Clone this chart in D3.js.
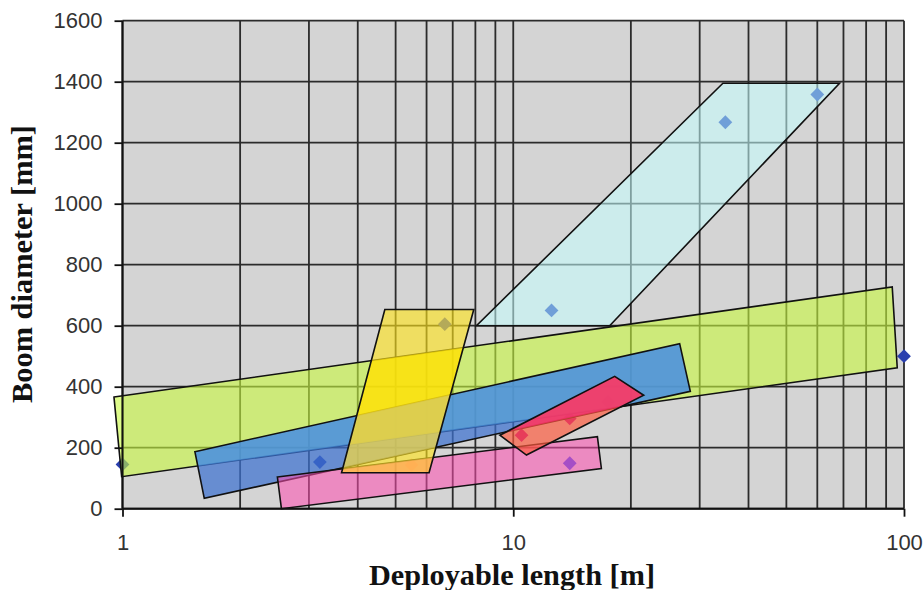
<!DOCTYPE html>
<html>
<head>
<meta charset="utf-8">
<script src="https://cdn.jsdelivr.net/npm/d3@7/dist/d3.min.js"></script>
<style>
  html, body { margin: 0; padding: 0; background: #fff; }
  svg { display: block; }
</style>
</head>
<body>
<svg id="chart" width="923" height="590"></svg>
<script>
// Axis ticks
const xTickValues = [1, 10, 100];
const yTickValues = [0, 200, 400, 600, 800, 1000, 1200, 1400, 1600];
const xGridValues = [1, 2, 3, 4, 5, 6, 7, 8, 9, 10, 20, 30, 40, 50, 60, 70, 80, 90, 100];

// Design regions: [length m, diameter mm] corners
const regionGreen  = [[0.951, 366], [93.3, 727], [96.1, 462], [0.995, 105]];
const regionBlue   = [[1.532, 187], [26.66, 541], [28.39, 385], [1.619, 34]];
const regionPink   = [[2.491, 104], [16.42, 236], [16.81, 132], [2.551, 0]];
const regionRed    = [[9.24, 241], [18.18, 434], [21.57, 372], [10.81, 176]];
const regionYellow = [[4.692, 653], [7.925, 653], [6.089, 118], [3.636, 118]];
const regionCyan   = [[34.4, 1395], [68.4, 1395], [17.65, 600], [8.05, 600]];

// Boom data points: [length m, diameter mm]
const pointsNavy    = [[1, 145], [3.2, 153], [100, 500]];
const pointsSky     = [[12.53, 650], [34.9, 1267], [60, 1358]];
const pointsMagenta = [[10.5, 241], [13.95, 296], [17.48, 350]];
const pointsPurple  = [[13.95, 149]];
const pointsGray    = [[6.68, 605]];
const pointsSalmon  = [[5.49, 143]];

(function () {
const svg = d3.select("#chart");
const defs = svg.append("defs");
const pl = 122.5, pr = 904, pt = 20.7, pb = 508.7;

const x = d3.scaleLog().domain([1, 100]).range([pl, pr]);
const y = d3.scaleLinear().domain([0, 1600]).range([pb, pt]);
const outline = d3.line().x(d => x(d[0])).y(d => y(d[1])).curve(d3.curveLinearClosed);

// plot background
svg.append("rect")
  .attr("x", pl).attr("y", pt)
  .attr("width", pr - pl).attr("height", pb - pt)
  .attr("fill", "#d4d4d4");

// grid
const grid = svg.append("g").attr("stroke", "#2b2b2b").attr("stroke-width", 1.8);
grid.selectAll("line.gx").data(xGridValues).join("line")
  .attr("x1", d => x(d)).attr("x2", d => x(d))
  .attr("y1", pt).attr("y2", pb);
grid.selectAll("line.gy").data(yTickValues).join("line")
  .attr("x1", pl).attr("x2", pr)
  .attr("y1", d => y(d)).attr("y2", d => y(d));

// markers (sit beneath the translucent regions)
const diamond = d3.symbol().type(d3.symbolSquare).size(95);
function markers(data, color) {
  svg.append("g").selectAll("path").data(data).join("path")
    .attr("d", diamond)
    .attr("transform", d => `translate(${x(d[0])},${y(d[1])}) rotate(45)`)
    .attr("fill", color);
}
markers(pointsNavy, "#2a3fae");
markers(pointsSky, "#0a2aa8");
markers(pointsMagenta, "#b4009a");
markers(pointsPurple, "#3a50e0");
markers(pointsGray, "#3a4cc0");
markers(pointsSalmon, "#ff9a9a");

// clip paths for the overlaps between regions
const clips = {};
[["green", regionGreen], ["blue", regionBlue], ["pink", regionPink]].forEach(([name, data]) => {
  defs.append("clipPath").attr("id", "clip-" + name)
    .append("path").attr("d", outline(data));
  clips[name] = "url(#clip-" + name + ")";
});

// translucent regions, each with tinted overlaps and a dark outline
function region(data, color, alpha, overlaps = []) {
  const g = svg.append("g");
  g.append("path").attr("d", outline(data))
    .attr("fill", color).attr("fill-opacity", alpha);
  overlaps.forEach(o => {
    g.append("path").attr("d", outline(data))
      .attr("clip-path", clips[o.under])
      .attr("fill", o.color).attr("fill-opacity", o.alpha);
  });
  g.append("path").attr("d", outline(data))
    .attr("fill", "none")
    .attr("stroke", "#111")
    .attr("stroke-width", 1.6)
    .attr("stroke-linejoin", "miter");
}
region(regionGreen, "#c8f83e", 0.6);
region(regionBlue, "#3d71d0", 0.72, [{under: "green", color: "#50a4f0", alpha: 0.5}]);
region(regionPink, "#ff4cb0", 0.55);
region(regionRed, "#ff5a3c", 0.68, [{under: "blue", color: "#ff286e", alpha: 0.65}]);
region(regionYellow, "#ffe41a", 0.62, [
  {under: "green", color: "#ffe100", alpha: 0.6},
  {under: "blue", color: "#d6c670", alpha: 0.55},
  {under: "pink", color: "#ffac5a", alpha: 0.55}
]);
region(regionCyan, "#c4ffff", 0.55);

// axes
const axisFont = "'Liberation Sans', Arial, sans-serif";
const gx = svg.append("g").attr("transform", `translate(0,${pb})`)
  .call(d3.axisBottom(x).tickValues(xTickValues).tickFormat(d3.format("d")).tickSize(8).tickPadding(18));
const gy = svg.append("g").attr("transform", `translate(${pl},0)`)
  .call(d3.axisLeft(y).tickValues(yTickValues).tickFormat(d3.format("d")).tickSize(8).tickPadding(12));
[gx, gy].forEach(g => {
  g.select(".domain").attr("stroke", "#111").attr("stroke-width", 2);
  g.selectAll(".tick line").attr("stroke", "#111").attr("stroke-width", 1.8);
  g.selectAll(".tick text").attr("font-family", axisFont).attr("font-size", 22).attr("fill", "#333");
});
gx.select(".domain").attr("d", `M${pl},0H${pr}`);
gy.select(".domain").attr("d", `M0,${pb}V${pt}`);

// axis titles
const titleFont = "'Liberation Serif', 'Times New Roman', serif";
svg.append("text")
  .attr("x", 369).attr("y", 585)
  .attr("textLength", 286).attr("lengthAdjust", "spacingAndGlyphs")
  .attr("font-family", titleFont).attr("font-weight", "bold").attr("font-size", 29)
  .attr("fill", "#111")
  .text("Deployable length [m]");
svg.append("text")
  .attr("transform", "translate(32,403) rotate(-90)")
  .attr("textLength", 278).attr("lengthAdjust", "spacingAndGlyphs")
  .attr("font-family", titleFont).attr("font-weight", "bold").attr("font-size", 29)
  .attr("fill", "#111")
  .text("Boom diameter [mm]");
})();
</script>
</body>
</html>
